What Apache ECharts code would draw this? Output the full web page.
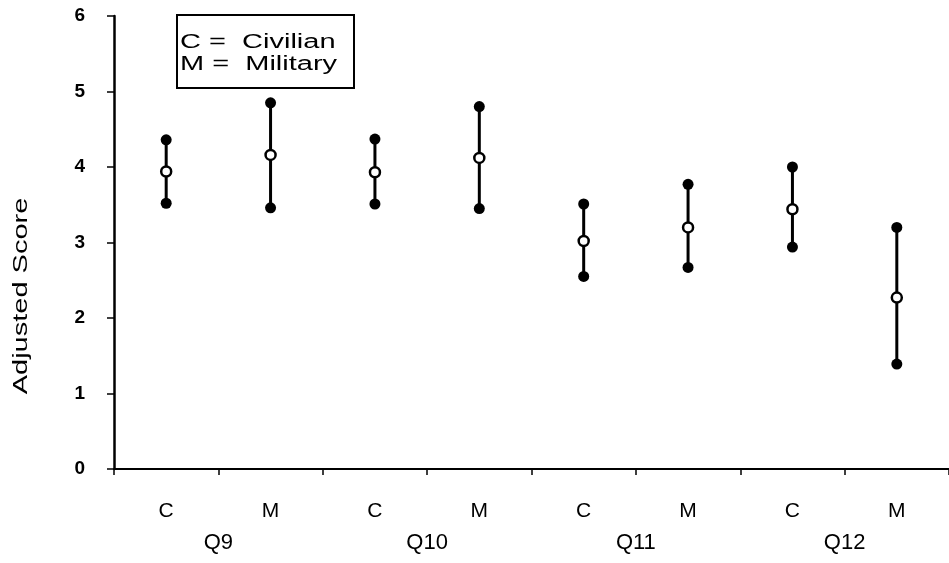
<!DOCTYPE html>
<html>
<head>
<meta charset="utf-8">
<script src="https://cdn.jsdelivr.net/npm/echarts@6/dist/echarts.min.js"></script>
<style>
  html, body { margin: 0; padding: 0; background: #fff; }
  #chart { width: 949px; height: 563px; }
</style>
</head>
<body>
<div id="chart"></div>
<script>
// Question groups and respondent type within each group
const groups = ['Q9', 'Q10', 'Q11', 'Q12'];
const subgroups = ['C', 'M', 'C', 'M', 'C', 'M', 'C', 'M'];

// Adjusted score: upper bound, mean, lower bound for each position
const highs = [4.36, 4.85, 4.37, 4.80, 3.51, 3.77, 4.00, 3.20];
const means = [3.94, 4.16, 3.93, 4.12, 3.02, 3.20, 3.44, 2.27];
const lows  = [3.52, 3.46, 3.51, 3.45, 2.55, 2.67, 2.94, 1.39];

// Value axis range
const yMin = 0, yMax = 6, yStep = 1;

const FONT = '"Liberation Sans", Arial, Helvetica, sans-serif';

const chart = echarts.init(document.getElementById('chart'), null, { renderer: 'canvas' });

const rangeData = lows.map((lo, i) => [i, lo, highs[i]]);
const boundData = [];
highs.forEach((h, i) => boundData.push([i, h]));
lows.forEach((l, i) => boundData.push([i, l]));
const meanData = means.map((m, i) => [i, m]);

chart.setOption({
  animation: false,
  backgroundColor: '#fff',
  grid: { left: 114, top: 16, width: 840, height: 453, containLabel: false },
  xAxis: [
    {
      type: 'category',
      data: subgroups,
      boundaryGap: true,
      axisLine: { show: true, lineStyle: { color: '#000', width: 2 } },
      axisTick: { show: true, length: 6, lineStyle: { color: '#000', width: 1.5 } },
      axisLabel: { margin: 32, fontSize: 21, color: '#000', fontFamily: FONT },
      splitLine: { show: false }
    },
    {
      type: 'category',
      data: groups,
      position: 'bottom',
      boundaryGap: true,
      axisLine: { show: false },
      axisTick: { show: false },
      axisLabel: { margin: 63, fontSize: 22, color: '#000', fontFamily: FONT },
      splitLine: { show: false }
    }
  ],
  yAxis: {
    type: 'value',
    min: yMin,
    max: yMax,
    interval: yStep,
    axisLine: { show: true, lineStyle: { color: '#000', width: 2.5 } },
    axisTick: { show: true, length: 7, lineStyle: { color: '#000', width: 1.5 } },
    axisLabel: { margin: 29, fontSize: 19, fontWeight: 'bold', color: '#000', fontFamily: FONT },
    splitLine: { show: false }
  },
  series: [
    {
      // vertical line from lower to upper bound
      type: 'custom',
      xAxisIndex: 0,
      data: rangeData,
      encode: { x: 0, y: [1, 2] },
      renderItem: function (params, api) {
        const x = api.value(0);
        const p1 = api.coord([x, api.value(1)]);
        const p2 = api.coord([x, api.value(2)]);
        return {
          type: 'line',
          shape: { x1: p1[0], y1: p1[1], x2: p2[0], y2: p2[1] },
          style: { stroke: '#000', lineWidth: 3 }
        };
      },
      z: 2
    },
    {
      // filled dots at the bounds
      type: 'scatter',
      xAxisIndex: 0,
      data: boundData,
      symbol: 'circle',
      symbolSize: 11,
      itemStyle: { color: '#000', opacity: 1 },
      z: 3
    },
    {
      // hollow circle at the mean
      type: 'scatter',
      xAxisIndex: 0,
      data: meanData,
      symbol: 'circle',
      symbolSize: 10,
      itemStyle: { color: '#fff', borderColor: '#000', borderWidth: 2.5, opacity: 1 },
      z: 4
    }
  ],
  graphic: [
    {
      type: 'rect',
      shape: { x: 177, y: 15, width: 177, height: 73 },
      style: { fill: '#fff', stroke: '#000', lineWidth: 2 },
      z: 10
    },
    {
      type: 'text',
      x: 180, y: 42,
      scaleX: 1.45,
      style: { text: 'C =  Civilian', font: '20px ' + FONT, fill: '#000', align: 'left', verticalAlign: 'middle' },
      z: 11
    },
    {
      type: 'text',
      x: 180, y: 64,
      scaleX: 1.45,
      style: { text: 'M =  Military', font: '20px ' + FONT, fill: '#000', align: 'left', verticalAlign: 'middle' },
      z: 11
    },
    {
      type: 'text',
      x: 21, y: 296,
      rotation: Math.PI / 2,
      scaleX: 1.45,
      style: { text: 'Adjusted Score', font: '20px ' + FONT, fill: '#000', align: 'center', verticalAlign: 'middle' },
      z: 11
    }
  ]
});
</script>
</body>
</html>
